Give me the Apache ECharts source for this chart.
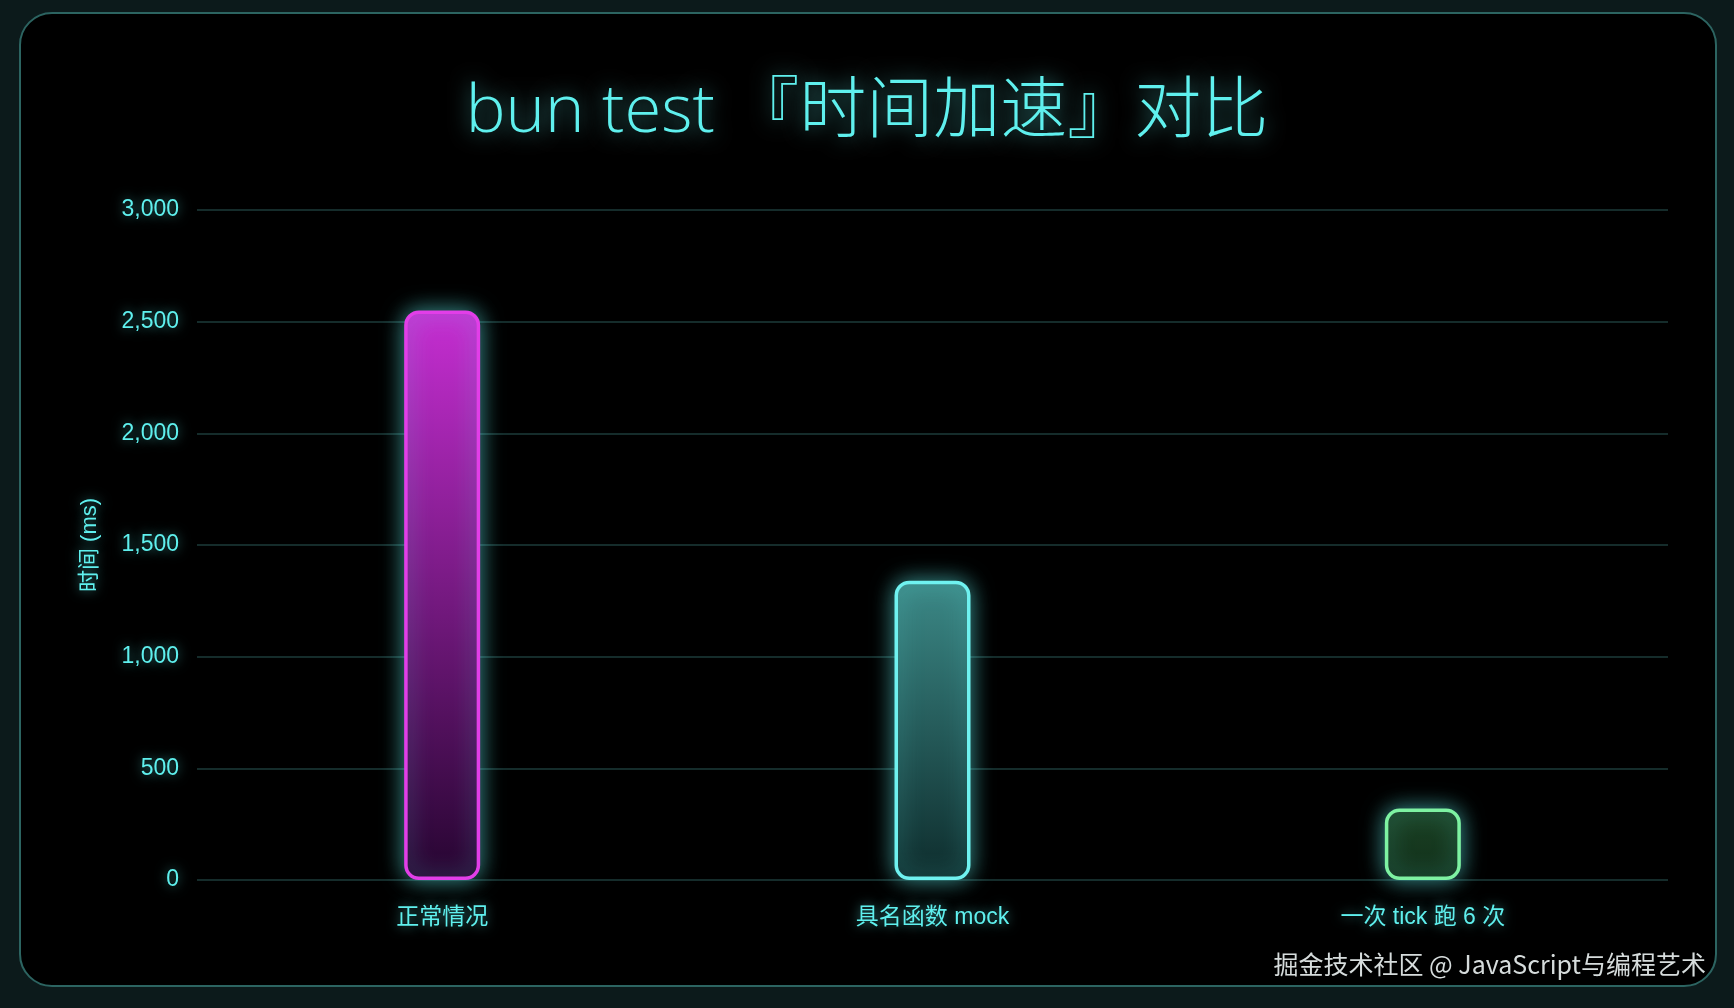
<!DOCTYPE html>
<html>
<head>
<meta charset="utf-8">
<title>bun test 时间加速对比</title>
<script src="https://cdn.jsdelivr.net/npm/echarts@6/dist/echarts.min.js"></script>
<style>
  html, body { margin: 0; padding: 0; background: #0c1a1b; }
  #chart { width: 1734px; height: 1008px; }
</style>
</head>
<body>
<div id="chart"></div>
<script>
let categories = ['正常情况', '具名函数 mock', '一次 tick 跑 6 次'];
let durations = [2550, 1340, 320];
let yMin = 0;
let yMax = 3000;
let yStep = 500;

// look of each bar, same order as categories
let borderColors = ['#e23ee8', '#6ff2f0', '#7ef2a2'];
let topColors = ['#c62ed2', '#3c8987', '#1b4124'];
let bottomColors = ['#260530', '#0e2c2c', '#12301a'];

const cyan = '#5ff0ee';
const glow = 'rgba(95,240,238,0.6)';
const font = '"Noto Sans CJK SC", "Noto Sans", sans-serif';
const latin = '"Liberation Sans", "Noto Sans CJK SC", sans-serif';

window.onload = function() {
    let myChart = echarts.init(document.getElementById('chart'));

    let barData = durations.map(function(v, i) {
        return {
            value: v,
            itemStyle: {
                color: new echarts.graphic.LinearGradient(0, 0, 0, 1, [
                    { offset: 0, color: topColors[i] },
                    { offset: 1, color: bottomColors[i] }
                ]),
                borderColor: borderColors[i]
            }
        };
    });

    let option = {
        backgroundColor: '#0c1a1b',
        textStyle: { fontFamily: latin },
        graphic: [
            {
                type: 'rect',
                z: -10,
                shape: { x: 20, y: 13, width: 1696, height: 973, r: 32 },
                style: { fill: '#000000', stroke: '#2c6461', lineWidth: 2 }
            },
            {
                type: 'text',
                right: 28,
                top: 952,
                style: {
                    text: '掘金技术社区 @ JavaScript与编程艺术',
                    fill: '#d6dcdc',
                    font: '25px ' + font
                }
            }
        ],
        title: {
            text: 'bun test 『时间加速』对比',
            left: 'center',
            top: 74,
            textStyle: {
                color: cyan,
                fontSize: 67,
                fontWeight: 300,
                fontFamily: '"Open Sans", "Noto Sans CJK SC", sans-serif',
                textShadowColor: glow,
                textShadowBlur: 20
            }
        },
        grid: {
            left: 197,
            right: 66,
            top: 210,
            bottom: 128
        },
        xAxis: {
            type: 'category',
            data: categories,
            axisLine: { show: false },
            axisTick: { show: false },
            axisLabel: {
                color: cyan,
                fontSize: 23,
                margin: 26,
                textShadowColor: glow,
                textShadowBlur: 12
            }
        },
        yAxis: {
            type: 'value',
            min: yMin,
            max: yMax,
            interval: yStep,
            name: '时间 (ms)',
            nameLocation: 'middle',
            nameGap: 96,
            nameTextStyle: {
                color: cyan,
                fontSize: 22,
                textShadowColor: glow,
                textShadowBlur: 12
            },
            axisLabel: {
                color: cyan,
                fontSize: 23,
                margin: 18,
                textShadowColor: glow,
                textShadowBlur: 12,
                formatter: function(v) { return v.toLocaleString('en-US'); }
            },
            axisTick: { show: false },
            axisLine: { show: false },
            splitLine: { lineStyle: { color: '#1d3b3a', width: 1.5 } }
        },
        series: [
            {
                type: 'bar',
                data: barData,
                barWidth: 76,
                itemStyle: {
                    borderWidth: 3.5,
                    borderRadius: 13,
                    shadowColor: glow,
                    shadowBlur: 22
                }
            }
        ]
    };
    myChart.setOption(option);
};
</script>
</body>
</html>
